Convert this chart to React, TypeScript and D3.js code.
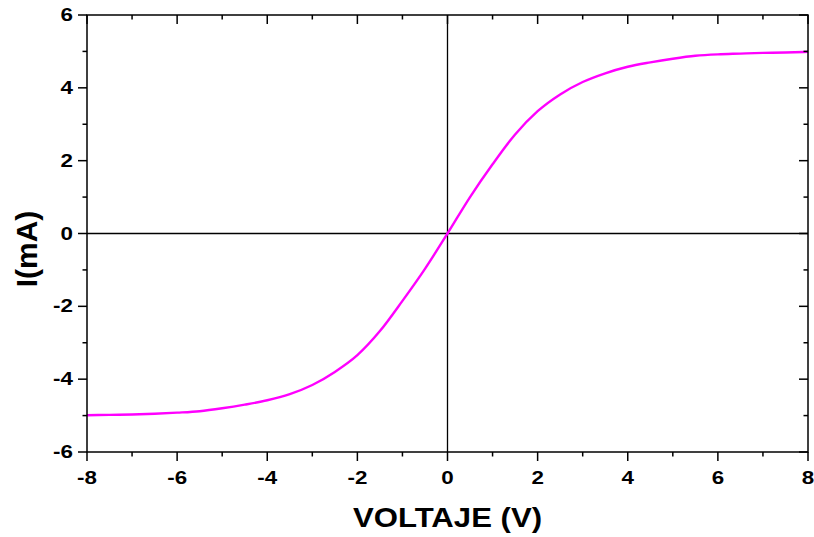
import React from "react";
import * as d3 from "d3";

const voltage = [-8, -7.5, -7, -6.5, -6, -5.5, -5, -4.5, -4, -3.5, -3, -2.5, -2, -1.5, -1, -0.5, 0, 0.5, 1, 1.5, 2, 2.5, 3, 3.5, 4, 4.5, 5, 5.5, 6, 6.5, 7, 7.5, 8];
const current = [-4.99, -4.98, -4.97, -4.95, -4.92, -4.88, -4.8, -4.7, -4.58, -4.41, -4.16, -3.8, -3.34, -2.68, -1.85, -0.97, 0, 1.0, 1.9, 2.72, 3.36, 3.82, 4.16, 4.4, 4.58, 4.7, 4.8, 4.88, 4.92, 4.94, 4.96, 4.97, 4.99];
const xMajorTicks = [-8, -6, -4, -2, 0, 2, 4, 6, 8];
const xMinorTicks = [-7, -5, -3, -1, 1, 3, 5, 7];
const yMajorTicks = [-6, -4, -2, 0, 2, 4, 6];
const yMinorTicks = [-5, -3, -1, 1, 3, 5];
const xTitle = "VOLTAJE (V)";
const yTitle = "I(mA)";

const W = 814, H = 537;
const L = 87, R = 808, T = 15, B = 452;
const MAJ = 9, MIN = 4.5;
const FONT = "'Liberation Sans', Arial, sans-serif";
const SX = 1.28;

export default function App() {
  const x = d3.scaleLinear().domain([-8, 8]).range([L, R]);
  const y = d3.scaleLinear().domain([-6, 6]).range([B, T]);
  const pts = voltage.map((v, i) => [v, current[i]] as [number, number]);
  const line = d3.line<[number, number]>().x(d => x(d[0])).y(d => y(d[1])).curve(d3.curveMonotoneX);

  return (
    <svg width={W} height={H} style={{ position: "absolute", left: 0, top: 0, background: "#fff" }} fontFamily={FONT}>
      <rect x={0} y={0} width={W} height={H} fill="#fff" />
      <line x1={x(0)} x2={x(0)} y1={T} y2={B} stroke="#000" strokeWidth={1.3} />
      <line x1={L} x2={R} y1={y(0)} y2={y(0)} stroke="#000" strokeWidth={1.3} />
      <path d={line(pts) || ""} fill="none" stroke="#ff00ff" strokeWidth={2.4} />
      <rect x={L} y={T} width={R - L} height={B - T} fill="none" stroke="#000" strokeWidth={1.5} />
      {xMajorTicks.map(v => (
        <g key={"xM" + v}>
          <line x1={x(v)} x2={x(v)} y1={B} y2={B + MAJ} stroke="#000" strokeWidth={1.5} />
          <line x1={x(v)} x2={x(v)} y1={T} y2={T + MAJ} stroke="#000" strokeWidth={1.5} />
          <text transform={`translate(${x(v)},483.5) scale(${SX},1)`} textAnchor="middle" fontSize={17.5} fontWeight="bold">{v}</text>
        </g>
      ))}
      {xMinorTicks.map(v => (
        <g key={"xm" + v}>
          <line x1={x(v)} x2={x(v)} y1={B} y2={B + MIN} stroke="#000" strokeWidth={1.5} />
          <line x1={x(v)} x2={x(v)} y1={T} y2={T + MIN} stroke="#000" strokeWidth={1.5} />
        </g>
      ))}
      {yMajorTicks.map(v => (
        <g key={"yM" + v}>
          <line x1={L - MAJ} x2={L} y1={y(v)} y2={y(v)} stroke="#000" strokeWidth={1.5} />
          <line x1={R - MAJ} x2={R} y1={y(v)} y2={y(v)} stroke="#000" strokeWidth={1.5} />
          <text transform={`translate(73,${y(v)}) scale(${SX},1)`} dy="0.35em" textAnchor="end" fontSize={17.5} fontWeight="bold">{v}</text>
        </g>
      ))}
      {yMinorTicks.map(v => (
        <g key={"ym" + v}>
          <line x1={L - MIN} x2={L} y1={y(v)} y2={y(v)} stroke="#000" strokeWidth={1.5} />
          <line x1={R - MIN} x2={R} y1={y(v)} y2={y(v)} stroke="#000" strokeWidth={1.5} />
        </g>
      ))}
      <text x={447.5} y={527} textAnchor="middle" fontSize={28} fontWeight="bold" textLength={189} lengthAdjust="spacingAndGlyphs">{xTitle}</text>
      <text transform={`translate(36.5, 249) rotate(-90)`} textAnchor="middle" fontSize={30} fontWeight="bold">{yTitle}</text>
    </svg>
  );
}
